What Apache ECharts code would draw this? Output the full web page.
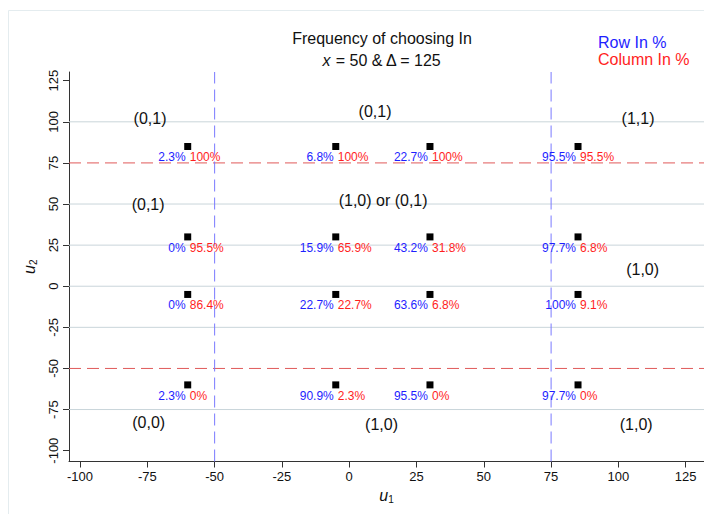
<!DOCTYPE html>
<html>
<head>
<meta charset="utf-8">
<script src="https://cdn.jsdelivr.net/npm/echarts@6/dist/echarts.min.js"></script>
<style>
html,body{margin:0;padding:0;background:#fff;}
#chart{width:704px;height:514px;}
</style>
</head>
<body>
<div id="chart"></div>
<script>
// ---- data ----
const xPos = [-60, -5, 30, 85];
const yPos = [85, 30, -5, -60];
// row-wise (by yPos) then column-wise (by xPos)
const rowInPct = [
  [2.3, 6.8, 22.7, 95.5],
  [0, 15.9, 43.2, 97.7],
  [0, 22.7, 63.6, 100],
  [2.3, 90.9, 95.5, 97.7]
];
const colInPct = [
  [100, 100, 100, 95.5],
  [95.5, 65.9, 31.8, 6.8],
  [86.4, 22.7, 6.8, 9.1],
  [0, 2.3, 0, 0]
];
const regionText = ['(0,1)', '(0,1)', '(1,1)', '(0,1)', '(1,0) or (0,1)', '(1,0)', '(0,0)', '(1,0)', '(1,0)'];
const regionX = [-74, 9.6, 107.3, -74.7, 12.6, 109, -74.5, 12, 106.6];
const regionY = [102, 106.5, 102, 50, 52, 10.3, -82.6, -83.8, -84.4];
const tickValues = [-100, -75, -50, -25, 0, 25, 50, 75, 100, 125];
const gridValuesY = [100, 50, 25, 0, -25, -75];
const vLines = [-50, 75];
const hLines = [75, -50];
const titleText = 'Frequency of choosing In';
const legendRow = 'Row In %';
const legendCol = 'Column In %';
const XMIN = -104.1, XMAX = 131.8, YMIN = -106.6, YMAX = 130.3;

// ---- build ----
const pts = [], rowLab = [], colLab = [];
yPos.forEach((y, i) => xPos.forEach((x, j) => {
  pts.push([x, y]);
  rowLab.push({value: [x, y], txt: rowInPct[i][j] + '%'});
  colLab.push({value: [x, y], txt: colInPct[i][j] + '%'});
}));
const regions = regionText.map((t, k) => ({value: [regionX[k], regionY[k]], txt: t}));

const FONT = '"Liberation Sans", Arial, sans-serif';
const BLUE = '#1e1eff';
const RED = '#ff1e1e';
const GRIDC = '#c9d5da';
const RLINE = '#e05a5a';
const BLINE = '#7a7aff';

function refLine(data, color, dash, z) {
  return {
    type: 'line', data: data, silent: true, z: z, symbol: 'none', showSymbol: false,
    lineStyle: {color: color, width: 1, type: dash, opacity: 1},
    itemStyle: {color: color}, emphasis: {disabled: true}, clip: false
  };
}
const lineSeries = [];
gridValuesY.forEach(v => lineSeries.push(refLine([[XMIN, v], [XMAX, v]], GRIDC, 'solid', 1)));
hLines.forEach(v => lineSeries.push(refLine([[XMIN, v], [XMAX, v]], RLINE, [12, 6], 2)));
vLines.forEach(v => lineSeries.push(refLine([[v, YMIN], [v, YMAX]], BLINE, [12, 6], 2)));

const labelBase = {show: true, verticalAlign: 'middle', fontFamily: FONT, textBorderWidth: 0};

const chart = echarts.init(document.getElementById('chart'), null, {renderer: 'svg'});
chart.setOption({
  animation: false,
  textStyle: {fontFamily: FONT},
  grid: {left: 69, right: 0, top: 72, bottom: 52.5, containLabel: false},
  xAxis: {
    type: 'value', min: XMIN, max: XMAX,
    name: '{i|u}{s|1}', nameLocation: 'middle', nameGap: 22,
    nameTextStyle: {rich: {i: {fontStyle: 'italic', fontSize: 16, color: '#111', fontFamily: FONT}, s: {fontSize: 10, color: '#111', padding: [8, 0, 0, 0], fontFamily: FONT}}},
    axisLine: {show: true, onZero: false, lineStyle: {color: '#333', width: 1}},
    axisTick: {show: true, length: 6, customValues: tickValues, lineStyle: {color: '#333'}},
    axisLabel: {customValues: tickValues, fontSize: 13, color: '#111', margin: 8, fontFamily: FONT},
    splitLine: {show: false}
  },
  yAxis: {
    type: 'value', min: YMIN, max: YMAX,
    name: '{i|u}{s|2}', nameLocation: 'middle', nameGap: 31, nameRotate: 90,
    nameTextStyle: {rich: {i: {fontStyle: 'italic', fontSize: 16, color: '#111', fontFamily: FONT}, s: {fontSize: 10, color: '#111', padding: [8, 0, 0, 0], fontFamily: FONT}}},
    axisLine: {show: true, onZero: false, lineStyle: {color: '#333', width: 1}},
    axisTick: {show: true, length: 6, customValues: tickValues, lineStyle: {color: '#333'}},
    axisLabel: {customValues: tickValues, fontSize: 13, color: '#111', margin: 9, rotate: 90, fontFamily: FONT},
    splitLine: {show: false}
  },
  graphic: [
    {type: 'line', shape: {x1: 8.5, y1: 10.5, x2: 8.5, y2: 514}, style: {stroke: '#e4ecef', lineWidth: 1}, silent: true},
    {type: 'line', shape: {x1: 8.5, y1: 10.5, x2: 704, y2: 10.5}, style: {stroke: '#e4ecef', lineWidth: 1}, silent: true},
    {type: 'text', style: {text: titleText, x: 382, y: 38, align: 'center', verticalAlign: 'middle', font: '16px ' + FONT, fill: '#111'}},
    {type: 'text', style: {x: 382, y: 60, align: 'center', verticalAlign: 'middle', text: '{i|x} = 50 & Δ = 125', font: '16px ' + FONT, fill: '#111', rich: {i: {fontStyle: 'italic', fontSize: 16, fontFamily: FONT, fill: '#111'}}}},
    {type: 'text', style: {x: 598, y: 42, align: 'left', verticalAlign: 'middle', text: legendRow, font: '16px ' + FONT, fill: BLUE}},
    {type: 'text', style: {x: 598, y: 59, align: 'left', verticalAlign: 'middle', text: legendCol, font: '16px ' + FONT, fill: RED}}
  ],
  series: lineSeries.concat([
    {
      type: 'scatter', data: rowLab, symbolSize: 0, silent: true, z: 3,
      itemStyle: {opacity: 1},
      label: Object.assign({}, labelBase, {position: [-2, 11], align: 'right', fontSize: 12, color: BLUE, formatter: p => p.data.txt})
    },
    {
      type: 'scatter', data: colLab, symbolSize: 0, silent: true, z: 3,
      itemStyle: {opacity: 1},
      label: Object.assign({}, labelBase, {position: [2, 11], align: 'left', fontSize: 12, color: RED, formatter: p => p.data.txt})
    },
    {
      type: 'scatter', data: regions, symbolSize: 0, silent: true, z: 3,
      itemStyle: {opacity: 1},
      label: Object.assign({}, labelBase, {position: [0, 0], align: 'center', fontSize: 16, color: '#111', formatter: p => p.data.txt})
    },
    {
      type: 'scatter', data: pts, symbol: 'rect', symbolSize: 7, silent: true, z: 5,
      itemStyle: {color: '#000', opacity: 1}
    }
  ])
});
</script>
</body>
</html>
